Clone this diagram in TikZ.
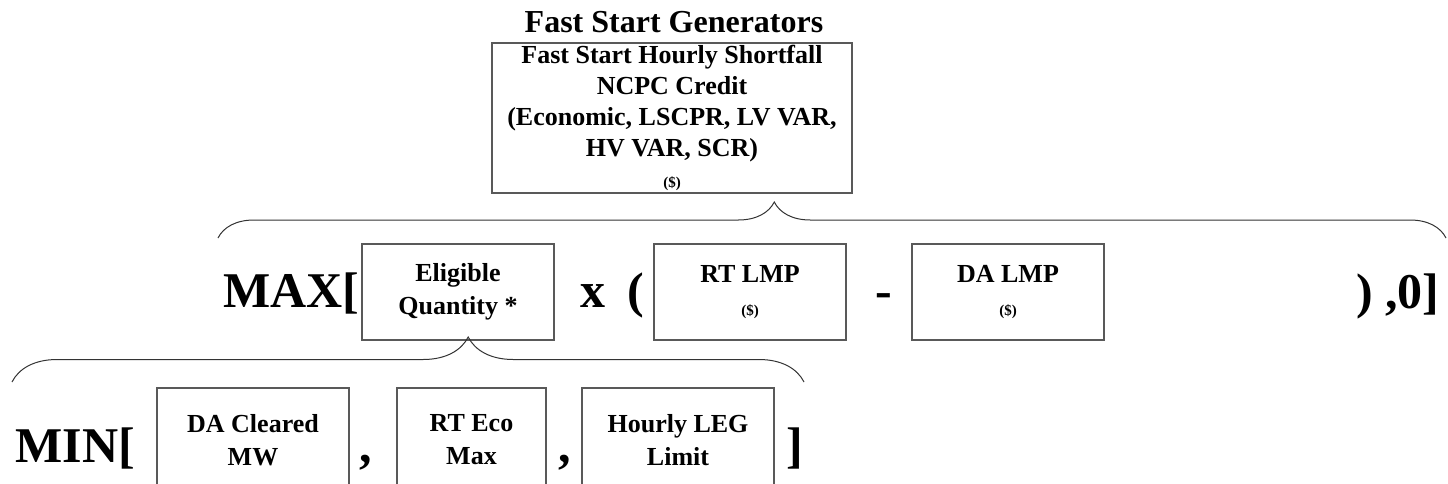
\documentclass[tikz,border=0pt]{standalone}
\usepackage{fontspec}
\setmainfont{Liberation Serif}
\usetikzlibrary{decorations.pathreplacing}

\begin{document}
\begin{tikzpicture}[x=0.5pt,y=-0.5pt]
\tikzset{termbox/.style={draw=black!65,line width=0.6pt,minimum width=96pt,minimum height=48pt,align=center,inner sep=0pt,font=\bfseries\fontsize{13}{16.5}\selectfont}}
\tikzset{bigop/.style={font=\bfseries\fontsize{25}{30}\selectfont,inner sep=0pt,anchor=base}}
\tikzset{curly/.style 2 args={decorate,decoration={brace,amplitude=#1,aspect=#2},draw=black!80,line width=0.5pt}}
\newcommand{\dollar}{{\fontsize{7.5}{9}\selectfont (\$)}}
\clip (0,0) rectangle (1448,483);
\node[font=\bfseries\fontsize{16}{19}\selectfont,anchor=base] (title) at (674,32) {Fast Start Generators};
\node[termbox,minimum width=180pt,minimum height=75pt,font=\bfseries\fontsize{13}{15.5}\selectfont] (credit) at (672,118) {Fast Start Hourly Shortfall\\NCPC Credit\\(Economic, LSCPR, LV VAR,\\HV VAR, SCR)\\\dollar};
\coordinate (maxL) at (218,238);
\coordinate (maxR) at (1446,238);
\draw[curly={18pt}{0.453}] (maxL) -- (maxR);
\node[bigop,anchor=base west] (max) at (223,307) {MAX[};
\node[termbox] (elig) at (458,292) {Eligible\\Quantity *};
\node[bigop] (times) at (593,307) {x};
\node[bigop] (lpar) at (636,307) {(};
\node[termbox] (rtlmp) at (750,292) {RT LMP\\\dollar};
\node[bigop] (minus) at (884,307) {-};
\node[termbox] (dalmp) at (1008,292) {DA LMP\\\dollar};
\node[bigop,anchor=base east] (close) at (1440,308) {) ,0]};
\coordinate (minL) at (12,382);
\coordinate (minR) at (804,382);
\draw[curly={22.5pt}{0.576}] (minL) -- (minR);
\node[bigop,anchor=base west] (min) at (15,462) {MIN[};
\node[termbox,minimum height=52pt] (dacl) at (253,440) {DA Cleared\\MW};
\node[bigop] (comma1) at (366,462) {,};
\node[termbox,minimum width=74.5pt,minimum height=52pt] (rteco) at (471.5,440) {RT Eco\\Max};
\node[bigop] (comma2) at (565,462) {,};
\node[termbox,minimum height=52pt] (leg) at (678,440) {Hourly LEG\\Limit};
\node[bigop] (rbrk) at (795,462) {]};
\end{tikzpicture}
\end{document}
